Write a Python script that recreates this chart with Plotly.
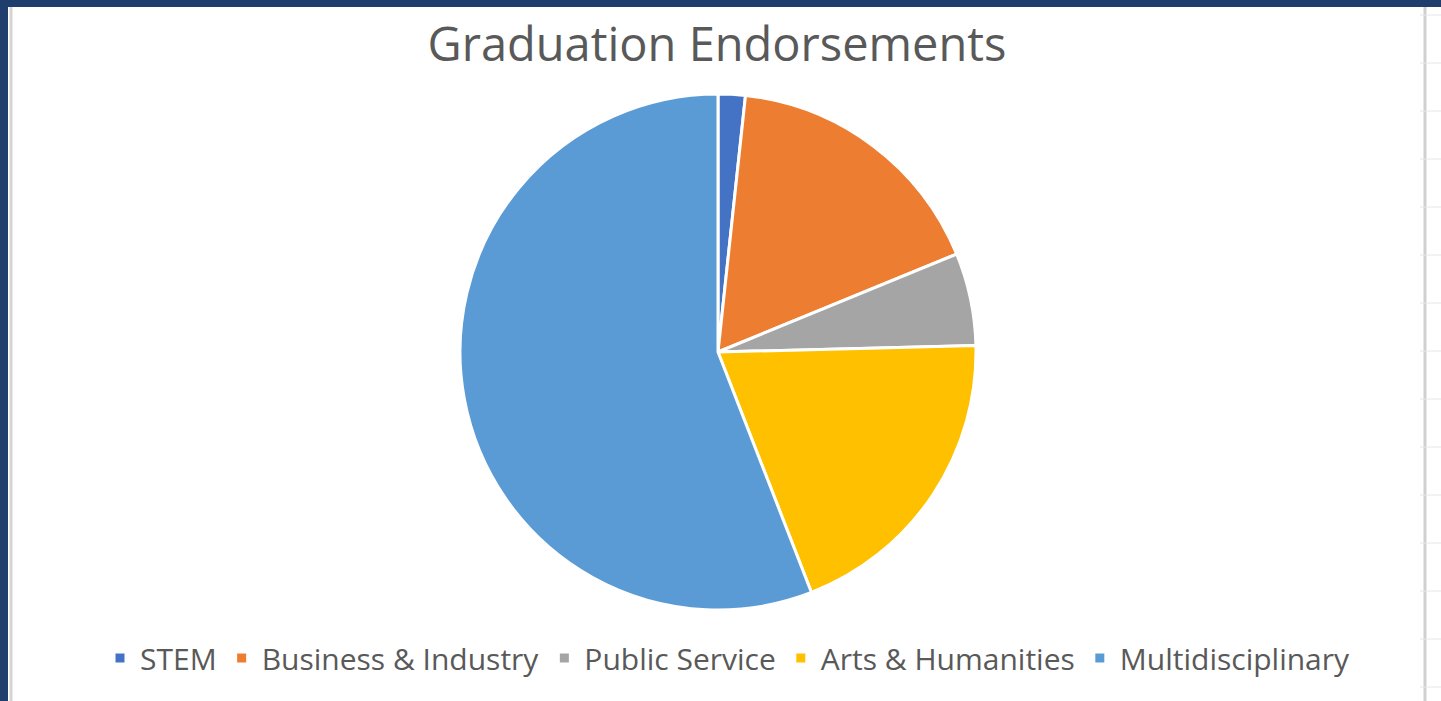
import plotly.graph_objects as go

W, H = 1441, 701

# Endorsement shares (percent of graduates)
categories = ["STEM", "Business & Industry", "Public Service", "Arts & Humanities", "Multidisciplinary"]
shares = [1.7, 17.1, 5.8, 19.5, 55.9]
colors = ["#4472C4", "#ED7D31", "#A5A5A5", "#FFC000", "#5B9BD5"]

NAVY = "#1F3E6D"
TEXT = "#595959"


def px_x(x):
    return x / W


def px_y(y):
    return 1 - y / H


cx, cy, r = 718, 352, 258

fig = go.Figure(
    go.Pie(
        labels=categories,
        values=shares,
        sort=False,
        direction="clockwise",
        rotation=0,
        textinfo="none",
        hoverinfo="label+percent",
        marker=dict(colors=colors, line=dict(color="white", width=3)),
        domain=dict(x=[px_x(cx - r), px_x(cx + r)], y=[px_y(cy + r), px_y(cy - r)]),
    )
)

shapes = [
    # dark frame along the top and left
    dict(type="rect", xref="paper", yref="paper", x0=0, x1=1, y0=px_y(7), y1=1,
         fillcolor=NAVY, line_width=0, layer="above"),
    dict(type="rect", xref="paper", yref="paper", x0=0, x1=px_x(8), y0=0, y1=1,
         fillcolor=NAVY, line_width=0, layer="above"),
    # worksheet edges
    dict(type="line", xref="paper", yref="paper", x0=px_x(11), x1=px_x(11), y0=0, y1=px_y(7),
         line=dict(color="#D4D4D4", width=3)),
    dict(type="line", xref="paper", yref="paper", x0=px_x(1425), x1=px_x(1425), y0=0, y1=px_y(7),
         line=dict(color="#D0D0D0", width=3)),
]
for gy in range(15, 701, 48):
    shapes.append(dict(type="line", xref="paper", yref="paper", x0=px_x(1420), x1=1,
                       y0=px_y(gy), y1=px_y(gy), line=dict(color="#E6E6E6", width=1)))

fig.update_layout(
    width=W,
    height=H,
    margin=dict(l=0, r=0, t=0, b=0),
    paper_bgcolor="white",
    plot_bgcolor="white",
    font=dict(family="Open Sans, sans-serif", color=TEXT),
    title=dict(
        text="Graduation Endorsements",
        x=px_x(717), xanchor="center",
        y=px_y(45), yanchor="middle",
        font=dict(size=47, color=TEXT, family="Open Sans, sans-serif"),
    ),
    showlegend=True,
    legend=dict(
        orientation="h",
        x=px_x(728), xanchor="center",
        y=px_y(658), yanchor="middle",
        font=dict(size=30, color=TEXT),
        itemwidth=30,
        bgcolor="rgba(0,0,0,0)",
    ),
    shapes=shapes,
)

fig.write_html("out.html")
